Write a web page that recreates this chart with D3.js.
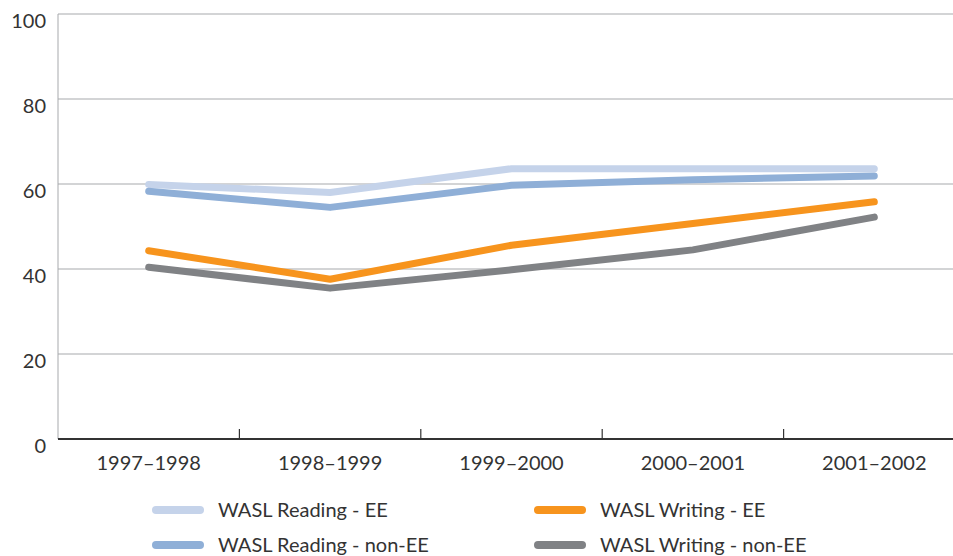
<!DOCTYPE html>
<html>
<head>
<meta charset="utf-8">
<script src="https://cdn.jsdelivr.net/npm/d3@7"></script>
<style>
  body { margin: 0; background: #fff; }
  text { font-family: Lato, "Open Sans", sans-serif; fill: #333; }
</style>
</head>
<body>
<div id="chart"></div>
<script>
var years = ['1997–1998', '1998–1999', '1999–2000', '2000–2001', '2001–2002']
var readingEE = [59.9, 58.0, 63.6, 63.6, 63.6]
var readingNonEE = [58.3, 54.5, 59.7, 61.0, 61.9]
var writingEE = [44.3, 37.6, 45.6, 50.7, 55.8]
var writingNonEE = [40.4, 35.5, 39.8, 44.5, 52.2]
var yTicks = [0, 20, 40, 60, 80, 100]

var series = [
  {name: 'WASL Reading - EE', values: readingEE, color: '#c5d3ea'},
  {name: 'WASL Reading - non-EE', values: readingNonEE, color: '#8fafd7'},
  {name: 'WASL Writing - EE', values: writingEE, color: '#f7941d'},
  {name: 'WASL Writing - non-EE', values: writingNonEE, color: '#808285'}
]

var chartW = 953, chartH = 556
var plotLeft = 58, plotTop = 14, plotBottom = 439

var svg = d3.select('#chart').append('svg')
  .attr('width', chartW).attr('height', chartH)

var x = d3.scaleBand().domain(years).range([plotLeft, 965])
var y = d3.scaleLinear().domain([0, 100]).range([plotBottom, plotTop])

// gridlines
svg.append('g').selectAll('line')
  .data(yTicks.filter(function(d){ return d > 0 }))
  .enter().append('line')
    .attr('x1', plotLeft).attr('x2', chartW)
    .attr('y1', function(d){ return y(d) }).attr('y2', function(d){ return y(d) })
    .attr('stroke', '#a7a9ac').attr('stroke-width', 1)

// y axis line
svg.append('line')
  .attr('x1', plotLeft).attr('x2', plotLeft).attr('y1', plotTop).attr('y2', plotBottom)
  .attr('stroke', '#a7a9ac').attr('stroke-width', 1)

// y labels
svg.append('g').selectAll('text')
  .data(yTicks).enter().append('text')
    .attr('x', 46).attr('y', function(d){ return y(d) + 14 })
    .attr('text-anchor', 'end').attr('font-size', 20)
    .text(function(d){ return d })

// x axis
svg.append('line')
  .attr('x1', plotLeft).attr('x2', chartW).attr('y1', plotBottom).attr('y2', plotBottom)
  .attr('stroke', '#333').attr('stroke-width', 2)

svg.append('g').selectAll('line')
  .data(years.slice(1)).enter().append('line')
    .attr('x1', function(d){ return x(d) }).attr('x2', function(d){ return x(d) })
    .attr('y1', plotBottom).attr('y2', plotBottom - 10)
    .attr('stroke', '#333').attr('stroke-width', 1.2)

svg.append('g').selectAll('text')
  .data(years).enter().append('text')
    .attr('x', function(d){ return x(d) + x.bandwidth() / 2 })
    .attr('y', 470)
    .attr('text-anchor', 'middle').attr('font-size', 20)
    .text(function(d){ return d })

// lines
var line = d3.line()
  .x(function(d, i){ return x(years[i]) + x.bandwidth() / 2 })
  .y(function(d){ return y(d) })

svg.append('g').selectAll('path')
  .data(series).enter().append('path')
    .attr('d', function(s){ return line(s.values) })
    .attr('fill', 'none')
    .attr('stroke', function(s){ return s.color })
    .attr('stroke-width', 7)
    .attr('stroke-linecap', 'round')
    .attr('stroke-linejoin', 'round')

// legend
var legendPos = [[153, 510], [153, 545], [535, 510], [535, 545]]
var lg = svg.append('g').selectAll('g')
  .data(series).enter().append('g')
    .attr('transform', function(d, i){ return 'translate(' + legendPos[i][0] + ',' + legendPos[i][1] + ')' })

lg.append('line')
  .attr('x1', 3).attr('x2', 47).attr('y1', 0).attr('y2', 0)
  .attr('stroke', function(d){ return d.color })
  .attr('stroke-width', 8).attr('stroke-linecap', 'round')

lg.append('text')
  .attr('x', 65).attr('y', 7)
  .attr('font-size', 20)
  .text(function(d){ return d.name })
</script>
</body>
</html>
